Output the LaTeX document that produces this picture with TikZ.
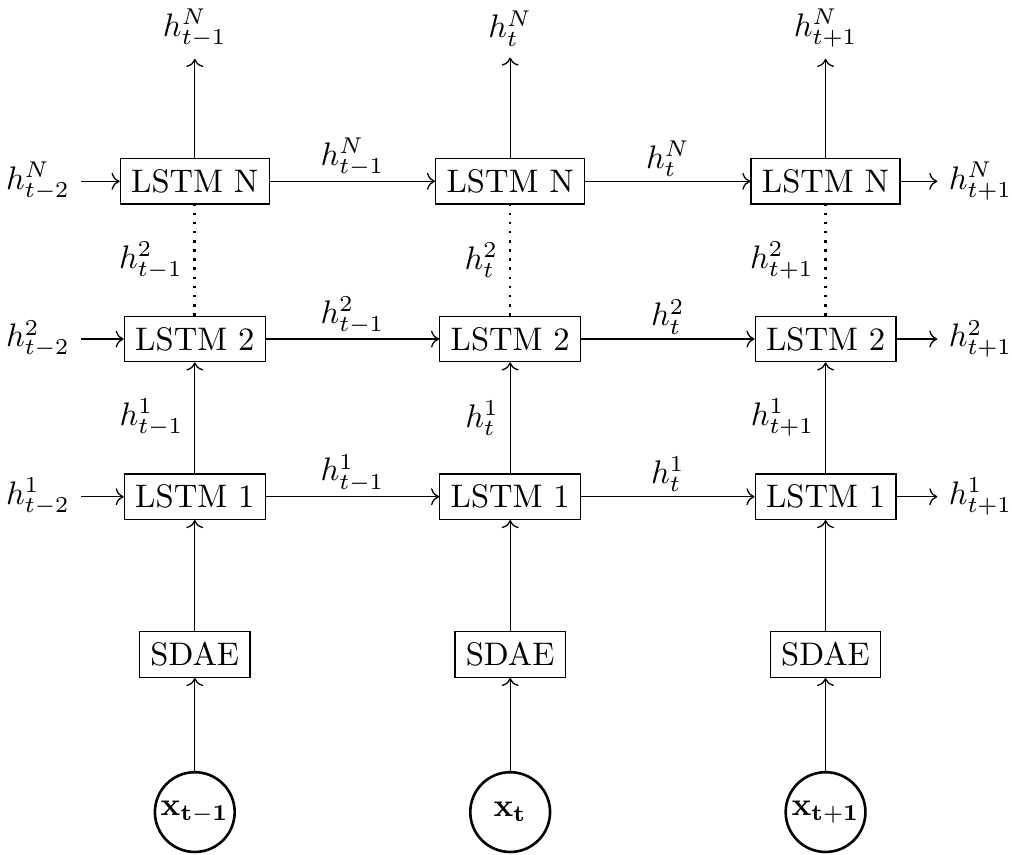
\documentclass[tikz,border=0pt]{standalone}
\usepackage{amsmath}
\usepackage{tikz}
\usetikzlibrary{arrows.meta,positioning,calc}

\begin{document}
\begin{tikzpicture}[
  cell/.style={draw,inner sep=3.33pt},
  inp/.style={draw,circle,thick,minimum size=8.6mm,inner sep=0pt},
  arr/.style={->},
  skip/.style={thick,dotted},
  lab/.style={inner sep=3.33pt},
  hlab/.style={lab,above=-2pt}
]
\useasboundingbox (-2.10,-0.453) rectangle (8.81,8.755);
% inputs and encoders
\node[inp] (x1) at (0,0) {$\mathbf{x_{t-1}}$};
\node[inp] (x2) at (3.4,0) {$\mathbf{x_{t}}$};
\node[inp] (x3) at (6.8,0) {$\mathbf{x_{t+1}}$};
\node[cell] (enc1) at (0,1.7) {SDAE};
\node[cell] (enc2) at (3.4,1.7) {SDAE};
\node[cell] (enc3) at (6.8,1.7) {SDAE};
% stacked cells
\node[cell] (a1) at (0,3.4) {LSTM 1};
\node[cell] (a2) at (3.4,3.4) {LSTM 1};
\node[cell] (a3) at (6.8,3.4) {LSTM 1};
\node[cell] (b1) at (0,5.1) {LSTM 2};
\node[cell] (b2) at (3.4,5.1) {LSTM 2};
\node[cell] (b3) at (6.8,5.1) {LSTM 2};
\node[cell] (n1) at (0,6.8) {LSTM N};
\node[cell] (n2) at (3.4,6.8) {LSTM N};
\node[cell] (n3) at (6.8,6.8) {LSTM N};
% outputs on top
\node[lab] (h1) at (0,8.45) {$h^N_{t-1}$};
\node[lab] (h2) at (3.4,8.45) {$h^N_{t}$};
\node[lab] (h3) at (6.8,8.45) {$h^N_{t+1}$};
% states coming in and going out
\node[lab] (inA) at (-1.69,3.4) {$h^1_{t-2}$};
\node[lab] (inB) at (-1.69,5.1) {$h^2_{t-2}$};
\node[lab] (inN) at (-1.69,6.8) {$h^N_{t-2}$};
\node[lab] (outA) at (8.47,3.4) {$h^1_{t+1}$};
\node[lab] (outB) at (8.47,5.1) {$h^2_{t+1}$};
\node[lab] (outN) at (8.47,6.8) {$h^N_{t+1}$};

\draw[arr] (x1) -- (enc1);
\draw[arr] (x2) -- (enc2);
\draw[arr] (x3) -- (enc3);
\draw[arr] (enc1) -- (a1);
\draw[arr] (enc2) -- (a2);
\draw[arr] (enc3) -- (a3);
\draw[arr] (a1) -- node[lab,left]{$h^1_{t-1}$} (b1);
\draw[arr] (a2) -- node[lab,left]{$h^1_{t}$} (b2);
\draw[arr] (a3) -- node[lab,left]{$h^1_{t+1}$} (b3);
\draw[skip] (b1) -- node[lab,left]{$h^2_{t-1}$} (n1);
\draw[skip] (b2) -- node[lab,left]{$h^2_{t}$} (n2);
\draw[skip] (b3) -- node[lab,left]{$h^2_{t+1}$} (n3);
\draw[arr] (n1) -- (h1);
\draw[arr] (n2) -- (h2);
\draw[arr] (n3) -- (h3);

\draw[arr] (inA) -- (a1);
\draw[arr] (a1) -- node[hlab]{$h^1_{t-1}$} (a2);
\draw[arr] (a2) -- node[hlab]{$h^1_{t}$} (a3);
\draw[arr] (a3) -- (outA);
\draw[arr] (inB) -- (b1);
\draw[arr] (b1) -- node[hlab]{$h^2_{t-1}$} (b2);
\draw[arr] (b2) -- node[hlab]{$h^2_{t}$} (b3);
\draw[arr] (b3) -- (outB);
\draw[arr] (inN) -- (n1);
\draw[arr] (n1) -- node[hlab]{$h^N_{t-1}$} (n2);
\draw[arr] (n2) -- node[hlab]{$h^N_{t}$} (n3);
\draw[arr] (n3) -- (outN);
\end{tikzpicture}
\end{document}
